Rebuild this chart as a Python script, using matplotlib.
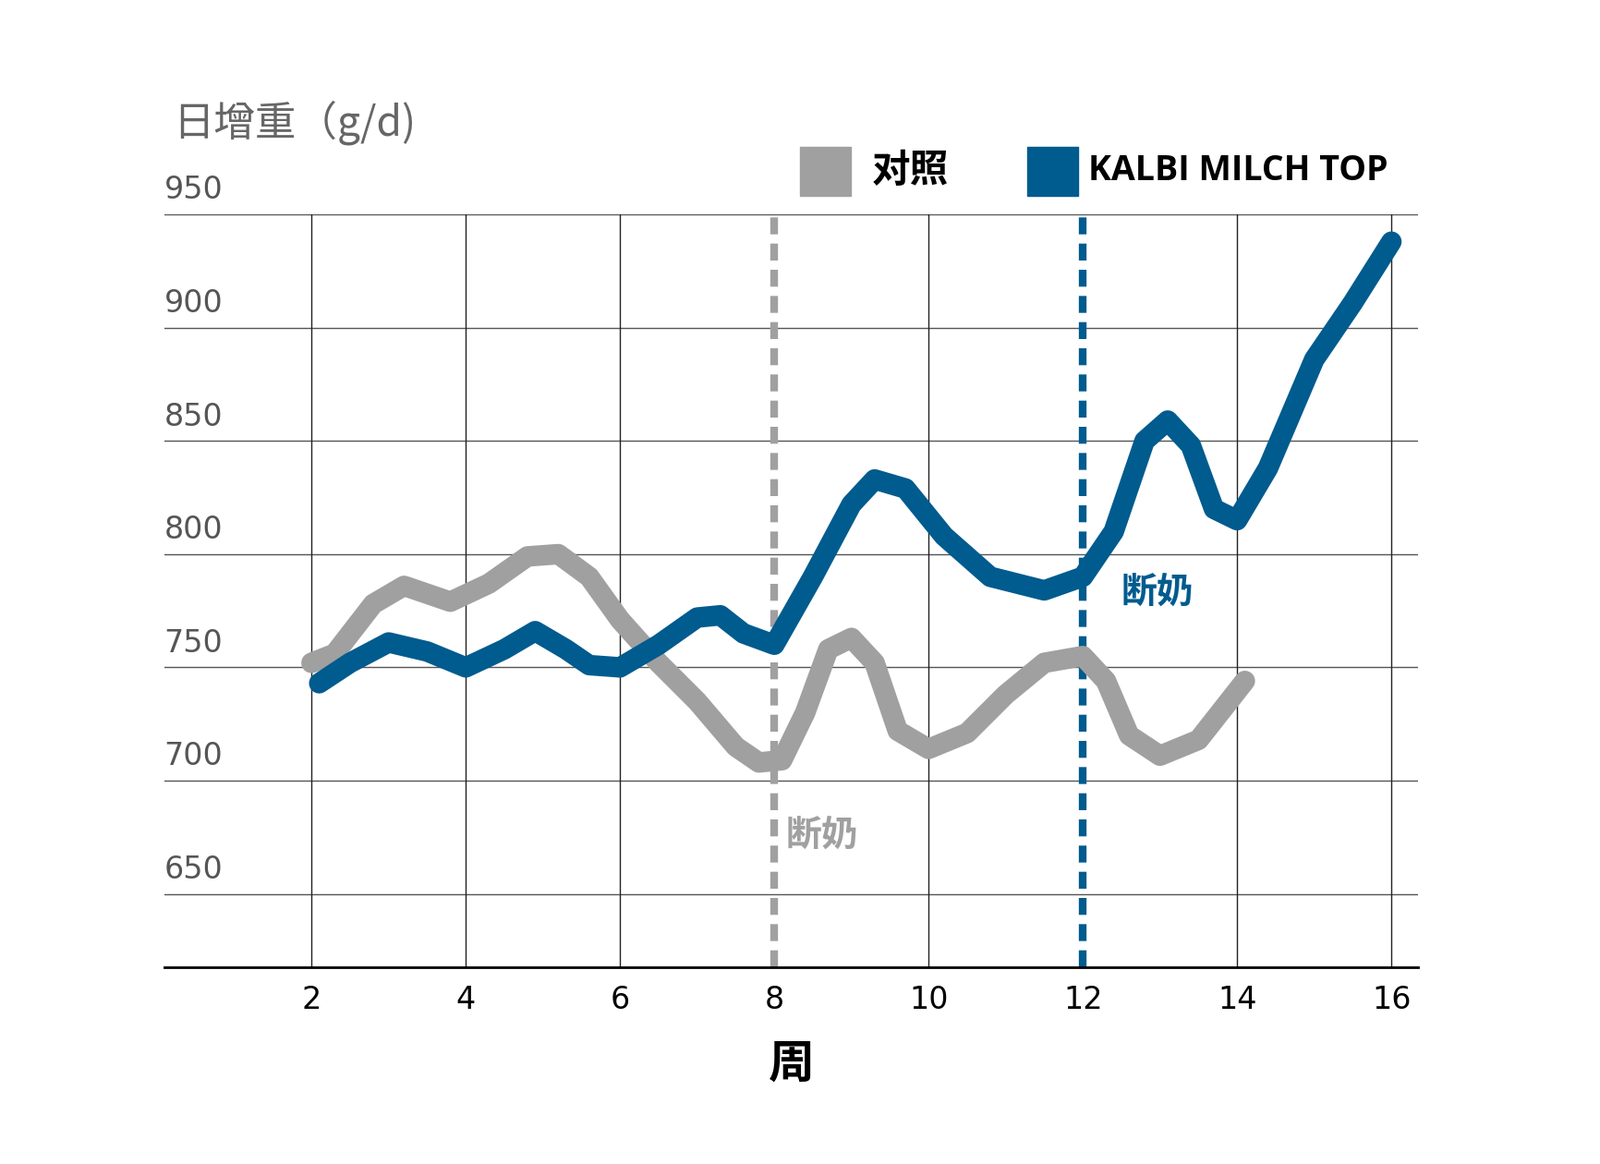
import matplotlib
matplotlib.use("Agg")
import matplotlib.pyplot as plt
from matplotlib.patches import Rectangle
from matplotlib import font_manager as fm

cjk_path = None
for f in fm.findSystemFonts():
    n = f.lower()
    if "cjk" in n and ("sc" in n or "jp" in n or "notosanscjk" in n):
        if cjk_path is None or "bold" in n and False:
            cjk_path = f
if cjk_path is None:
    for f in fm.fontManager.ttflist:
        if "CJK" in f.name:
            cjk_path = f.fname
            break
CJK = fm.FontProperties(fname=cjk_path) if cjk_path else fm.FontProperties(family="Noto Sans CJK SC")
bold_path = None
for f in fm.findSystemFonts():
    n = f.lower()
    if "cjk" in n and "bold" in n:
        bold_path = f
        break
CJKB = fm.FontProperties(fname=bold_path) if bold_path else CJK

control_x = [2.0, 2.3, 2.8, 3.2, 3.8, 4.3, 4.8, 5.2, 5.6, 6.0, 6.5, 7.0, 7.5, 7.8, 8.1, 8.4, 8.7, 9.0, 9.3, 9.6, 10.0, 10.5, 11.0, 11.5, 12.0, 12.3, 12.6, 13.0, 13.5, 14.1]
control_y = [752, 756, 778, 786, 779, 787, 799, 800, 790, 771, 752, 735, 715, 708, 709, 730, 758, 763, 752, 722, 714, 721, 738, 752, 755, 744, 720, 711, 718, 744]
kalbi_x = [2.1, 2.5, 3.0, 3.5, 4.0, 4.5, 4.9, 5.3, 5.6, 6.0, 6.5, 7.0, 7.3, 7.6, 8.0, 8.5, 9.0, 9.3, 9.7, 10.2, 10.8, 11.5, 12.0, 12.4, 12.8, 13.1, 13.4, 13.7, 14.0, 14.4, 15.0, 15.5, 16.0]
kalbi_y = [743, 752, 761, 757, 750, 758, 766, 758, 751, 750, 760, 772, 773, 765, 760, 790, 822, 833, 829, 808, 790, 784, 790, 810, 850, 859, 848, 820, 815, 838, 886, 911, 938]
yticks = [650, 700, 750, 800, 850, 900, 950]
xticks = [2, 4, 6, 8, 10, 12, 14, 16]

GRAY = "#a0a0a0"
BLUE = "#005b8e"

fig = plt.figure(figsize=(17.32, 12.6), dpi=100)
ax = fig.add_axes([0.1026, 0.1693, 0.7839, 0.6464])
ax.set_xlim(0.09, 16.35)
ax.set_ylim(617.7, 950)

for y in yticks:
    ax.axhline(y, color="#555555", lw=1.0, zorder=1)
    ax.text(0.09, y + 4, str(y), ha="left", va="bottom", fontsize=24, color="#555555", family="DejaVu Sans")
for x in xticks:
    if x not in (8, 12):
        ax.axvline(x, color="#222222", lw=1.0, zorder=1)
ax.axvline(8, color=GRAY, lw=6, ls=(0, (2.2, 1.2)), zorder=2)
ax.axvline(12, color=BLUE, lw=6, ls=(0, (2.2, 1.2)), zorder=2)

ax.plot(control_x, control_y, color=GRAY, lw=16, solid_capstyle="round", solid_joinstyle="round", zorder=3)
ax.plot(kalbi_x, kalbi_y, color=BLUE, lw=16, solid_capstyle="round", solid_joinstyle="round", zorder=4)

for s in ["top", "right", "left"]:
    ax.spines[s].set_visible(False)
ax.spines["bottom"].set_linewidth(2)
ax.set_yticks([])
ax.set_xticks(xticks)
ax.set_xticklabels([str(x) for x in xticks], fontsize=24, family="DejaVu Sans")
ax.tick_params(axis="x", length=0, pad=14)
ax.set_xlabel("周", fontproperties=CJKB, fontsize=36, labelpad=20)

ax.text(8.15, 676, "断奶", fontproperties=CJKB, fontsize=28, color=GRAY, ha="left", va="center")
ax.text(12.5, 783, "断奶", fontproperties=CJKB, fontsize=28, color=BLUE, ha="left", va="center")

fig.text(0.108, 0.895, "日增重（g/d)", fontproperties=CJK, fontsize=32, color="#666666", ha="left", va="center")
fig.patches.append(Rectangle((0.5, 0.832), 0.032, 0.042, transform=fig.transFigure, color=GRAY))
fig.text(0.545, 0.853, "对照", fontproperties=CJKB, fontsize=30, ha="left", va="center")
fig.patches.append(Rectangle((0.642, 0.832), 0.032, 0.042, transform=fig.transFigure, color=BLUE))
fig.text(0.68, 0.853, "KALBI MILCH TOP", fontsize=27, fontweight="bold", ha="left", va="center", family="Open Sans")

fig.savefig("out.png", dpi=100, facecolor="white")
